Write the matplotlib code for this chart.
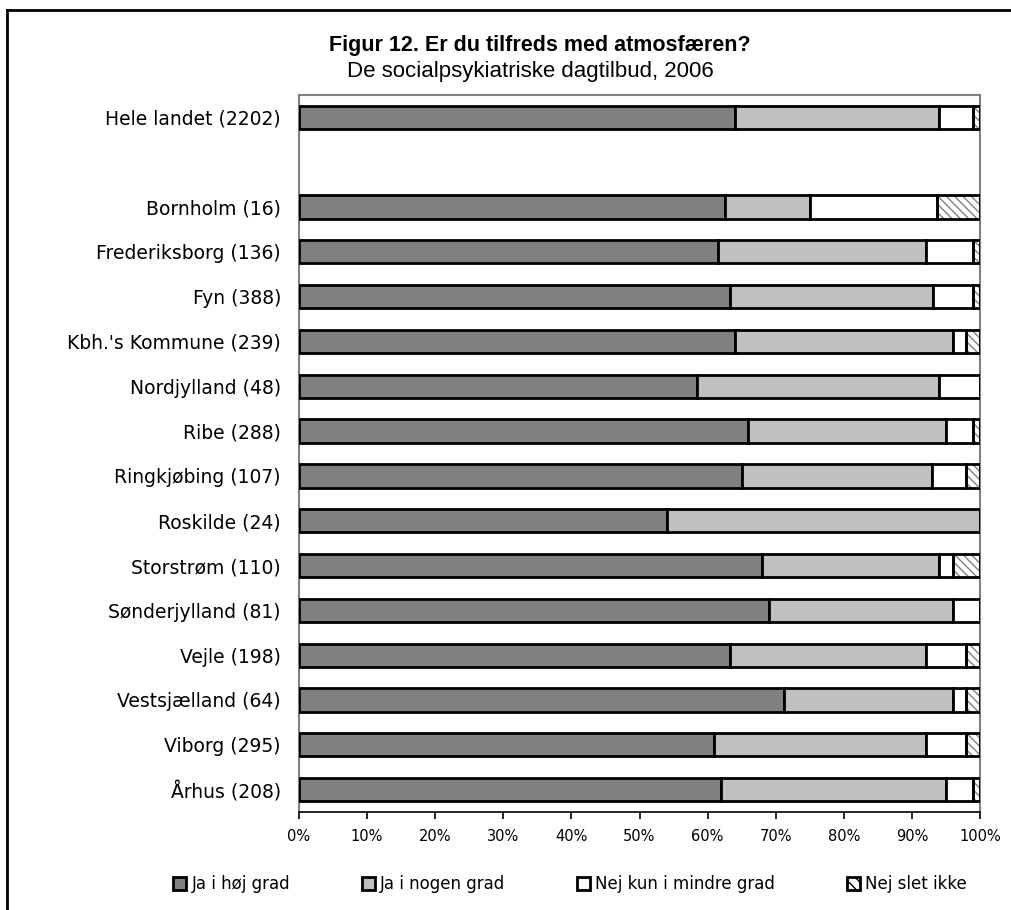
import matplotlib
matplotlib.use("Agg")
import matplotlib.pyplot as plt
from matplotlib.patches import Patch
import numpy as np

# categories (None = empty row between total and regions)
labels = ["Hele landet (2202)", None, "Bornholm (16)", "Frederiksborg (136)",
          "Fyn (388)", "Kbh.'s Kommune (239)", "Nordjylland (48)", "Ribe (288)",
          "Ringkjøbing (107)", "Roskilde (24)", "Storstrøm (110)",
          "Sønderjylland (81)", "Vejle (198)", "Vestsjælland (64)",
          "Viborg (295)", "Århus (208)"]

# shares in percent
hoej =    [64.0, 0, 62.5, 61.5, 63.3, 64.0, 58.4, 66.0, 65.0, 54.0, 68.0, 69.0, 63.3, 71.2, 61.0, 62.0]
nogen =   [30.0, 0, 12.5, 30.5, 29.8, 32.0, 35.6, 29.0, 28.0, 46.0, 26.0, 27.0, 28.7, 24.8, 31.0, 33.0]
mindre =  [5.0, 0, 18.75, 7.0, 5.9, 2.0, 6.0, 4.0, 5.0, 0.0, 2.0, 4.0, 6.0, 2.0, 6.0, 4.0]
slet =    [1.0, 0, 6.25, 1.0, 1.0, 2.0, 0.0, 1.0, 2.0, 0.0, 4.0, 0.0, 2.0, 2.0, 2.0, 1.0]

series_names = ["Ja i høj grad", "Ja i nogen grad", "Nej kun i mindre grad", "Nej slet ikke"]
ticks = [0, 10, 20, 30, 40, 50, 60, 70, 80, 90, 100]

W, H = 1011, 910
fig = plt.figure(figsize=(W / 100, H / 100), dpi=100)
ax = fig.add_axes([299 / W, 1 - 812 / H, 681 / W, 717 / H])

font_lbl = "DejaVu Sans"
y = np.arange(len(labels))
rows = [i for i, l in enumerate(labels) if l is not None]
yy = y[rows]
data = [np.array(s)[rows] for s in (hoej, nogen, mindre, slet)]
bh = 0.52
lw = 2.0

left = np.zeros(len(rows))
fills = ["#808080", "#C0C0C0", "white", "white"]
for k, vals in enumerate(data):
    if k == 3:
        # hatch in grey, outline in black on top
        ax.barh(yy, vals, left=left, height=bh, color="white", edgecolor="#808080",
                hatch="\\\\\\\\", linewidth=0, zorder=2)
        ax.barh(yy, vals, left=left, height=bh, color="none", edgecolor="black",
                linewidth=lw, zorder=3)
    else:
        ax.barh(yy, vals, left=left, height=bh, color=fills[k], edgecolor="black",
                linewidth=lw, zorder=3)
    left = left + vals

ax.set_xlim(0, 100)
ax.set_ylim(len(labels) - 0.5, -0.5)
ax.set_yticks(yy)
ax.set_yticklabels([labels[i] for i in rows], fontsize=13.5, family=font_lbl)
ax.tick_params(axis="y", length=0, pad=13)
ax.set_xticks(ticks)
ax.set_xticklabels([f"{t}%" for t in ticks], fontsize=10.5, family=font_lbl)
ax.tick_params(axis="x", direction="out", length=5, width=1.2, color="black", pad=7)
for s in ("left", "right", "top"):
    ax.spines[s].set_color("#808080")
    ax.spines[s].set_linewidth(1.5)
ax.spines["bottom"].set_color("black")
ax.spines["bottom"].set_linewidth(1.2)

fig.text(540 / W, 1 - 46 / H, "Figur 12. Er du tilfreds med atmosfæren?",
         ha="center", va="center", fontsize=15.5, fontweight="bold", family="Liberation Sans")
fig.text(530 / W, 1 - 71 / H, "De socialpsykiatriske dagtilbud, 2006",
         ha="center", va="center", fontsize=16, family="Liberation Sans")

# legend
handles = [Patch(facecolor="#808080", edgecolor="black", linewidth=lw),
           Patch(facecolor="#C0C0C0", edgecolor="black", linewidth=lw),
           Patch(facecolor="white", edgecolor="black", linewidth=lw),
           Patch(facecolor="white", edgecolor="black", linewidth=lw, hatch="\\\\\\")]
fig.legend(handles, series_names, loc="center", bbox_to_anchor=(570 / W, 1 - 884 / H),
           ncol=4, frameon=False, handlelength=0.8, handleheight=0.8, handletextpad=0.3,
           columnspacing=4.3, prop={"family": font_lbl, "size": 12})

# outer frame (top and left only)
fig.add_artist(plt.Line2D([7 / W, 1], [1 - 10 / H, 1 - 10 / H], color="black", lw=2,
                          transform=fig.transFigure))
fig.add_artist(plt.Line2D([7 / W, 7 / W], [0, 1 - 10 / H], color="black", lw=2,
                          transform=fig.transFigure))

fig.savefig("out.png", dpi=100)
